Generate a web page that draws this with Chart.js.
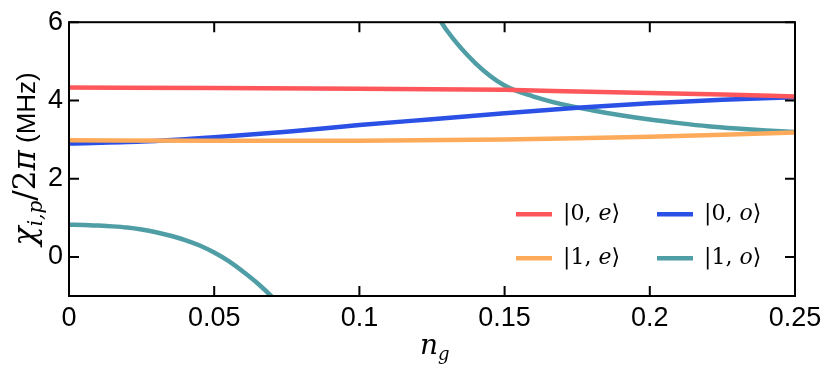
<!DOCTYPE html>
<html>
<head>
<meta charset="utf-8">
<script src="https://cdn.jsdelivr.net/npm/chart.js@4"></script>
<style>
  body { margin: 0; background: #fff; }
  canvas { display: block; }
</style>
</head>
<body>
<canvas id="myChart" width="829" height="369"></canvas>
<script>
// values
var ngRed = [0, 0.05, 0.1, 0.15, 0.175, 0.2, 0.225, 0.25];
var chi0e = [4.33, 4.32, 4.30, 4.27, 4.23, 4.19, 4.15, 4.10];

var ngOrange = [0, 0.05, 0.1, 0.15, 0.175, 0.2, 0.225, 0.25];
var chi1e = [2.98, 2.97, 2.97, 3.00, 3.03, 3.07, 3.12, 3.18];

var ngBlue = [0, 0.025, 0.05, 0.075, 0.1, 0.125, 0.15, 0.175, 0.2, 0.225, 0.25];
var chi0o = [2.90, 2.95, 3.06, 3.20, 3.37, 3.52, 3.67, 3.81, 3.93, 4.02, 4.08];

var ngTealLow = [0, 0.005, 0.01, 0.015, 0.02, 0.025, 0.03, 0.035, 0.04, 0.045, 0.05, 0.055, 0.06, 0.065, 0.07, 0.075];
var chi1oLow = [0.82, 0.815, 0.80, 0.78, 0.75, 0.70, 0.63, 0.54, 0.43, 0.29, 0.11, -0.11, -0.38, -0.68, -1.03, -1.45];
var ngTealHigh = [0.125, 0.13, 0.14, 0.15, 0.16, 0.17, 0.18, 0.19, 0.2, 0.21, 0.22, 0.23, 0.24, 0.25];
var chi1oHigh = [6.4, 5.8, 4.95, 4.38, 4.10, 3.90, 3.75, 3.62, 3.51, 3.42, 3.34, 3.28, 3.23, 3.19];

var xTicks = [0, 0.05, 0.1, 0.15, 0.2, 0.25];
var yTicks = [0, 2, 4, 6];

function pts(xs, ys) {
    return xs.map((x, i) => ({ x: x, y: ys[i] }));
}

var tealData = pts(ngTealLow, chi1oLow).concat([{ x: 0.1, y: null }], pts(ngTealHigh, chi1oHigh));

var serif = '"DejaVu Serif", "Liberation Serif", serif';
var sans = '"Liberation Sans", Arial, sans-serif';

function drawParts(c, parts, x, y) {
    parts.forEach(p => {
        c.font = p.font;
        c.fillText(p.text, x, y + (p.dy || 0));
        x += c.measureText(p.text).width;
    });
    return x;
}

function ketParts(n, s) {
    return [
        { text: '|' + n + ', ', font: '22px ' + serif },
        { text: s, font: 'italic 22px ' + serif },
        { text: '\u27E9', font: '22px ' + serif }
    ];
}

var frame = {
    id: 'frame',
    afterDatasetsDraw(chart) {
        var c = chart.ctx, a = chart.chartArea;
        var xs = chart.scales.x, ys = chart.scales.y;
        c.save();
        c.strokeStyle = '#000';
        c.lineWidth = 2;
        c.strokeRect(a.left, a.top, a.right - a.left, a.bottom - a.top);
        c.beginPath();
        xTicks.forEach(v => {
            var px = xs.getPixelForValue(v);
            c.moveTo(px, a.bottom); c.lineTo(px, a.bottom - 10);
            c.moveTo(px, a.top); c.lineTo(px, a.top + 10);
        });
        yTicks.forEach(v => {
            var py = ys.getPixelForValue(v);
            c.moveTo(a.left, py); c.lineTo(a.left + 10, py);
            c.moveTo(a.right, py); c.lineTo(a.right - 10, py);
        });
        c.stroke();

        // legend, two columns inside the axes
        c.fillStyle = '#000';
        c.textBaseline = 'middle';
        var items = [
            { ds: 0, n: '0', s: 'e', col: 0, row: 0 },
            { ds: 1, n: '1', s: 'e', col: 0, row: 1 },
            { ds: 2, n: '0', s: 'o', col: 1, row: 0 },
            { ds: 3, n: '1', s: 'o', col: 1, row: 1 }
        ];
        items.forEach(it => {
            var lx = a.right - 279 + it.col * 141;
            var ly = a.top + 192 + it.row * 44;
            c.strokeStyle = chart.data.datasets[it.ds].borderColor;
            c.lineWidth = 4.5;
            c.beginPath();
            c.moveTo(lx, ly); c.lineTo(lx + 36, ly);
            c.stroke();
            drawParts(c, ketParts(it.n, it.s), lx + 47, ly);
        });

        // axis titles
        c.textBaseline = 'alphabetic';
        c.save();
        c.translate(35, 159);
        c.rotate(-Math.PI / 2);
        var parts = [
            { text: '\u03C7', font: 'italic 32px ' + serif },
            { text: 'i,p', font: 'italic 20px ' + serif, dy: 7 },
            { text: '/2', font: '31px ' + serif },
            { text: '\u03C0', font: 'italic 31px ' + serif },
            { text: ' (MHz)', font: '26px ' + sans }
        ];
        var w = 0;
        parts.forEach(p => { c.font = p.font; w += c.measureText(p.text).width; });
        drawParts(c, parts, -w / 2, 0);
        c.restore();

        var tx = [
            { text: 'n', font: 'italic 28px ' + serif },
            { text: 'g', font: 'italic 18px ' + serif, dy: 6 }
        ];
        drawParts(c, tx, 420, 354);
        c.restore();
    }
};

var ctx = document.getElementById('myChart').getContext('2d');
var myChart = new Chart(ctx, {
    type: 'line',
    data: {
        datasets: [{
            label: '|0, e\u27E9',
            data: pts(ngRed, chi0e),
            borderColor: '#fd575b'
        }, {
            label: '|1, e\u27E9',
            data: pts(ngOrange, chi1e),
            borderColor: '#fdab5b'
        }, {
            label: '|0, o\u27E9',
            data: pts(ngBlue, chi0o),
            borderColor: '#2a50e6'
        }, {
            label: '|1, o\u27E9',
            data: tealData,
            borderColor: '#4f9ea5'
        }]
    },
    options: {
        responsive: false,
        animation: false,
        devicePixelRatio: 1,
        datasets: {
            line: {
                borderWidth: 4.5,
                pointRadius: 0,
                fill: false,
                cubicInterpolationMode: 'monotone',
                spanGaps: false,
                clip: 0
            }
        },
        layout: { padding: { top: 15, right: 34, left: 0, bottom: 0 } },
        plugins: {
            legend: { display: false },
            tooltip: { enabled: false }
        },
        scales: {
            x: {
                type: 'linear',
                min: 0,
                max: 0.25,
                afterBuildTicks: s => { s.ticks = xTicks.map(v => ({ value: v })); },
                afterFit: s => { s.height = 73; },
                grid: { display: false, drawTicks: false },
                border: { display: false },
                ticks: {
                    padding: 6,
                    color: '#000',
                    font: { family: 'Liberation Sans', size: 27 },
                    maxRotation: 0,
                    callback: v => String(Number(v.toFixed(2)))
                }
            },
            y: {
                min: -1,
                max: 6,
                afterBuildTicks: s => { s.ticks = yTicks.map(v => ({ value: v })); },
                afterFit: s => { s.width = 69; },
                grid: { display: false, drawTicks: false },
                border: { display: false },
                ticks: {
                    padding: 6,
                    color: '#000',
                    font: { family: 'Liberation Sans', size: 27 }
                }
            }
        }
    },
    plugins: [frame]
});
</script>
</body>
</html>
